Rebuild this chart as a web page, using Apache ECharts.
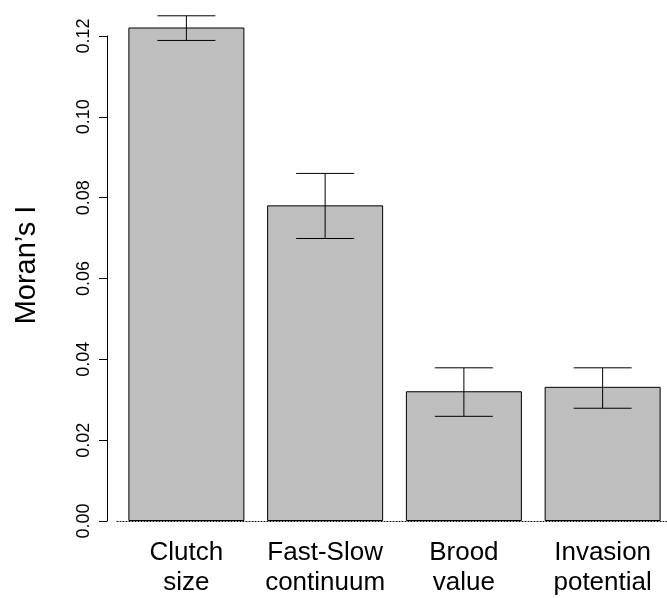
<!DOCTYPE html>
<html>
<head>
<meta charset="utf-8">
<script src="https://cdn.jsdelivr.net/npm/echarts@6/dist/echarts.min.js"></script>
<style>html,body{margin:0;padding:0;background:#fff;overflow:hidden;width:667px;height:598px;}#chart{width:672px;height:598px;}</style>
</head>
<body>
<div id="chart"></div>
<script>
const categories = ['Clutch\nsize', 'Fast-Slow\ncontinuum', 'Brood\nvalue', 'Invasion\npotential'];
const moransI = [0.1221, 0.0781, 0.0321, 0.0332];
const errUpper = [0.1250, 0.0860, 0.0379, 0.0379];
const errLower = [0.1189, 0.0699, 0.0259, 0.0279];
const yTicks = [0, 0.02, 0.04, 0.06, 0.08, 0.10, 0.12];

const FONT = '"Liberation Sans", Arial, sans-serif';
const chart = echarts.init(document.getElementById('chart'), null, {renderer: 'canvas'});
const errData = categories.map((c, i) => [i, errLower[i], errUpper[i]]);

chart.setOption({
  animation: false,
  backgroundColor: '#ffffff',
  grid: {left: 117, right: 0, top: 36, bottom: 75.5},
  xAxis: {
    type: 'category',
    data: categories,
    axisLine: {show: true, lineStyle: {color: '#000', width: 1, type: [1, 2]}},
    axisTick: {show: false},
    axisLabel: {color: '#000', fontFamily: FONT, fontSize: 26, lineHeight: 30, margin: 17, interval: 0}
  },
  yAxis: {
    type: 'value',
    min: yTicks[0],
    max: yTicks[yTicks.length - 1],
    interval: 0.02,
    offset: 10,
    splitLine: {show: false},
    axisLine: {show: true, lineStyle: {color: '#000', width: 1}},
    axisTick: {show: true, length: 8, lineStyle: {color: '#000', width: 1}},
    axisLabel: {color: '#000', fontFamily: FONT, fontSize: 18, rotate: 90, margin: 14,
      formatter: v => v.toFixed(2)}
  },
  graphic: [{
    type: 'text', x: 27, y: 265, rotation: Math.PI / 2,
    style: {text: 'Moran\u2019s I', font: '29px ' + FONT, fill: '#000', textAlign: 'center', textVerticalAlign: 'middle'}
  }],
  series: [{
    type: 'bar',
    data: moransI,
    barWidth: 116,
    clip: false,
    itemStyle: {color: '#bebebe', borderColor: '#000', borderWidth: 1},
    z: 2
  }, {
    type: 'custom',
    data: errData,
    clip: false,
    z: 3,
    renderItem: function (params, api) {
      const x = api.value(0);
      const lo = api.coord([x, api.value(1)]);
      const hi = api.coord([x, api.value(2)]);
      const half = 29;
      const st = {stroke: '#000', lineWidth: 1};
      return {type: 'group', children: [
        {type: 'line', shape: {x1: lo[0], y1: lo[1], x2: hi[0], y2: hi[1]}, style: st},
        {type: 'line', shape: {x1: hi[0] - half, y1: hi[1], x2: hi[0] + half, y2: hi[1]}, style: st},
        {type: 'line', shape: {x1: lo[0] - half, y1: lo[1], x2: lo[0] + half, y2: lo[1]}, style: st}
      ]};
    }
  }]
});
</script>
</body>
</html>
